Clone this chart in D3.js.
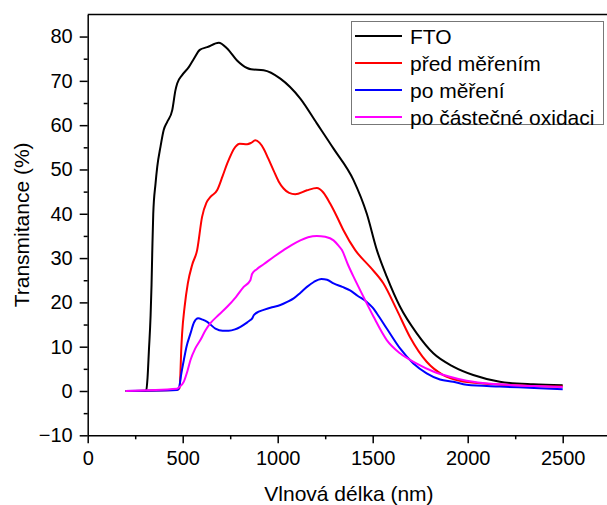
<!DOCTYPE html>
<html lang="cs">
<head>
    <meta charset="UTF-8">
    <title>Transmitance</title>
    <script src="https://d3js.org/d3.v7.min.js"></script>
    <style>
        body { margin: 0; background: #fff; }
        svg { display: block; font-family: "Liberation Sans", Arial, sans-serif; }
        .tick text { font-size: 20px; fill: #000; }
    </style>
</head>
<body>
<svg width="607" height="505"></svg>
<script>
    // wavelength (nm) / transmittance (%)
    const ftoX = [200, 300, 308, 315, 322, 331, 336, 340, 345, 357, 366, 383, 400, 418, 445, 462, 471, 497, 532, 559, 590, 629, 690, 734, 786, 839, 860, 926, 1014, 1119, 1206, 1294, 1399, 1469, 1522, 1574, 1644, 1732, 1819, 1924, 2029, 2169, 2344, 2500];
    const ftoY = [0, 0, 0.2, 3, 9, 17, 24, 31.8, 40, 46.8, 50.6, 55.1, 58.9, 60.7, 63.4, 67.9, 69.4, 71.3, 73.1, 75, 77, 77.6, 78.6, 77.3, 74.6, 72.9, 72.6, 72.4, 70.5, 66, 60.4, 54.7, 47.6, 40, 31.8, 25.8, 19, 13, 8.5, 5.5, 3.6, 2.1, 1.5, 1.3];

    const predX = [200, 470, 483, 488, 492, 497, 510, 527, 550, 576, 602, 625, 646, 681, 710, 734, 777, 800, 839, 860, 882, 905, 926, 950, 978, 1005, 1031, 1060, 1092, 1154, 1206, 1240, 1276, 1310, 1346, 1408, 1486, 1556, 1627, 1696, 1784, 1871, 1959, 2081, 2300, 2500];
    const predY = [0, 0.3, 0.6, 4, 9, 13, 19, 24.3, 28.5, 31.8, 39.3, 42.5, 43.8, 45.3, 48.5, 51.3, 55.1, 55.8, 55.7, 56, 56.6, 56, 54.7, 52.5, 49.8, 47.3, 45.7, 44.7, 44.4, 45.3, 45.8, 44.8, 42.3, 39.5, 36.3, 31.8, 28, 24.3, 18.3, 12.2, 6.6, 3.6, 2.3, 1.7, 1.2, 1.0];

    const poX = [200, 470, 480, 493, 506, 520, 541, 560, 581, 605, 629, 672, 710, 742, 775, 804, 840, 856, 866, 874, 900, 926, 970, 1014, 1050, 1084, 1120, 1154, 1190, 1230, 1260, 1294, 1340, 1381, 1420, 1469, 1500, 1522, 1574, 1644, 1714, 1784, 1854, 1924, 1994, 2169, 2350, 2500];
    const poY = [0, 0.2, 0.6, 4, 7, 10, 13, 15.5, 16.4, 16.1, 15.6, 14.1, 13.6, 13.6, 13.9, 14.5, 15.5, 16, 16.4, 17.1, 17.9, 18.3, 18.9, 19.4, 20.1, 20.9, 22.2, 23.5, 24.6, 25.3, 25.1, 24.3, 23.5, 22.7, 21.5, 20.1, 18.8, 17.5, 14.1, 9.6, 6.2, 4, 2.6, 2.1, 1.4, 1, 0.7, 0.4];

    const oxX = [200, 470, 480, 506, 525, 541, 565, 593, 620, 646, 690, 734, 780, 821, 856, 860, 865, 890, 926, 980, 1031, 1075, 1119, 1160, 1206, 1250, 1294, 1320, 1338, 1370, 1399, 1451, 1504, 1574, 1644, 1732, 1819, 1906, 1994, 2169, 2350, 2500];
    const oxY = [0, 0.5, 0.8, 2.1, 4.5, 7, 9.5, 11.5, 13.7, 15.3, 17.2, 19, 21.2, 23.5, 25, 25.6, 26.4, 27.5, 28.6, 30.3, 31.8, 33, 34, 34.7, 35, 34.8, 34, 32.8, 31.8, 28.5, 25.8, 21.3, 16.8, 11.5, 8.5, 6.2, 4.4, 3.2, 2.3, 1.5, 1.1, 0.9];

    const seriesNames = ["FTO", "před měřením", "po měření", "po částečné oxidaci"];
    const seriesColors = ["#000000", "#ff0000", "#0000ff", "#ff00ff"];
    const seriesX = [ftoX, predX, poX, oxX];
    const seriesY = [ftoY, predY, poY, oxY];

    const xTicks = [0, 500, 1000, 1500, 2000, 2500];
    const yTicks = [-10, 0, 10, 20, 30, 40, 50, 60, 70, 80];

    const svg = d3.select("svg");
    const mLeft = 87.7, mRight = 610.2, mTop = 14.4, mBottom = 435.3;

    const x = d3.scaleLinear().domain([0, 2750]).range([mLeft, mRight]);
    const y = d3.scaleLinear().domain([-10, 85]).range([mBottom, mTop]);

    // minor ticks
    svg.append("g")
        .attr("transform", `translate(0,${mBottom})`)
        .call(d3.axisBottom(x).tickValues(d3.range(250, 2750, 500)).tickSize(4).tickFormat(""))
        .call(g => g.select(".domain").remove())
        .selectAll("line").attr("stroke-width", 1.5);
    svg.append("g")
        .attr("transform", `translate(${mLeft},0)`)
        .call(d3.axisLeft(y).tickValues(d3.range(-5, 85, 10)).tickSize(4).tickFormat(""))
        .call(g => g.select(".domain").remove())
        .selectAll("line").attr("stroke-width", 1.5);

    // major axes
    const xAxis = svg.append("g")
        .attr("transform", `translate(0,${mBottom})`)
        .call(d3.axisBottom(x).tickValues(xTicks).tickSize(8).tickPadding(8).tickSizeOuter(0)
            .tickFormat(d => String(d)));
    const yAxis = svg.append("g")
        .attr("transform", `translate(${mLeft},0)`)
        .call(d3.axisLeft(y).tickValues(yTicks).tickSize(8).tickPadding(7).tickSizeOuter(0)
            .tickFormat(d => d < 0 ? "\u2212" + Math.abs(d) : String(d)));
    [xAxis, yAxis].forEach(g => {
        g.selectAll("line").attr("stroke-width", 1.5);
        g.select(".domain").attr("stroke-width", 1.5);
        g.selectAll("text").attr("font-family", "Liberation Sans, Arial, sans-serif");
    });

    // top frame line
    svg.append("line")
        .attr("x1", mLeft).attr("x2", mRight)
        .attr("y1", mTop).attr("y2", mTop)
        .attr("stroke", "black").attr("stroke-width", 1.5);

    const line = d3.line()
        .x(d => x(d[0]))
        .y(d => y(d[1]))
        .curve(d3.curveMonotoneX);

    const plot = svg.append("g");
    seriesNames.forEach((name, i) => {
        const pts = seriesX[i].map((v, j) => [v, seriesY[i][j]]);
        plot.append("path")
            .datum(pts)
            .attr("d", line)
            .attr("fill", "none")
            .attr("stroke", seriesColors[i])
            .attr("stroke-width", 2)
            .attr("stroke-linejoin", "round");
    });

    // legend
    const legend = svg.append("g");
    legend.append("rect")
        .attr("x", 351.5).attr("y", 21.5)
        .attr("width", 252).attr("height", 103)
        .attr("fill", "white").attr("stroke", "#777").attr("stroke-width", 1);
    seriesNames.forEach((name, i) => {
        const ly = 36 + i * 27;
        legend.append("line")
            .attr("x1", 355).attr("x2", 402)
            .attr("y1", ly).attr("y2", ly)
            .attr("stroke", seriesColors[i]).attr("stroke-width", 2);
        legend.append("text")
            .attr("x", 410).attr("y", ly + 7.5)
            .attr("font-size", 21)
            .text(name);
    });

    // axis titles
    svg.append("text")
        .attr("x", (mLeft + mRight) / 2).attr("y", 501)
        .attr("text-anchor", "middle")
        .attr("font-size", 21)
        .text("Vlnová délka (nm)");
    svg.append("text")
        .attr("transform", `translate(29,${(mTop + mBottom) / 2}) rotate(-90)`)
        .attr("text-anchor", "middle")
        .attr("font-size", 21)
        .text("Transmitance (%)");
</script>
</body>
</html>
